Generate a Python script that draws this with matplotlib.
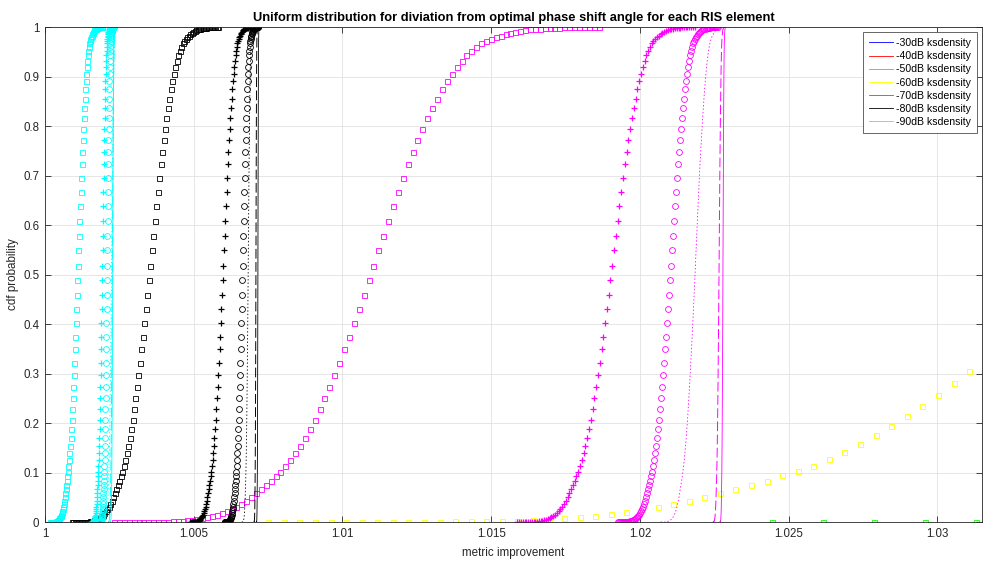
import numpy as np
import matplotlib.pyplot as plt

plt.rcParams["font.family"] = ["Liberation Sans", "DejaVu Sans"]
plt.rcParams["lines.scale_dashes"] = False

# noise levels in the legend and their line colours
levels = ["-30dB", "-40dB", "-50dB", "-60dB", "-70dB", "-80dB", "-90dB"]
level_colors = [(0, 0, 1), (1, 0, 0), (0, 1, 0), (1, 1, 0), (1, 0, 1), (0, 0, 0), (0, 1, 1)]

# ksdensity cdf on its 100 evaluation points (same shape for every curve)
cdf_profile = [
    0, 0, 0, 0, 0, 0, 0, 0, 0,
    0.001, 0.001, 0.001, 0.002, 0.002, 0.003, 0.004, 0.005, 0.006, 0.008, 0.010,
    0.012, 0.015, 0.018, 0.022, 0.026, 0.031, 0.037, 0.043, 0.050, 0.058, 0.067,
    0.075, 0.083, 0.092, 0.102, 0.113, 0.125, 0.139, 0.154, 0.170, 0.188,
    0.207, 0.228, 0.250, 0.273, 0.298, 0.322, 0.349, 0.374, 0.402, 0.430,
    0.458, 0.488, 0.518, 0.549, 0.578, 0.608, 0.638, 0.667, 0.696, 0.723,
    0.747, 0.771, 0.793, 0.816, 0.836, 0.855, 0.874, 0.890, 0.906, 0.919,
    0.931, 0.943, 0.952, 0.960, 0.967, 0.972, 0.976, 0.980, 0.982, 0.985,
    0.987, 0.990, 0.992, 0.993, 0.995, 0.995, 0.997, 0.998, 0.998, 0.999,
    0.999, 1, 1, 1, 1, 1, 1, 1, 1,
]

# one curve per style: squares, plus, circles, dotted, dashed, solid
styles = ["s", "+", "o", ":", "--", "-"]

# first / last evaluation point of each curve
grid_90dB = [(1.000168, 1.001918), (1.001548, 1.002254), (1.001817, 1.002322),
             (1.001985, 1.002456), (1.002120, 1.002389), (1.002187, 1.002355)]
grid_80dB = [(1.000908, 1.005821), (1.004862, 1.006982), (1.006040, 1.007167),
             (1.006615, 1.007019), (1.007019, 1.007153), (1.007103, 1.007204)]
grid_70dB = [(1.002322, 1.018607), (1.015881, 1.021837), (1.019246, 1.022611),
             (1.020693, 1.022880), (1.022443, 1.022847), (1.022682, 1.022884)]

# -60dB and -50dB squares: only the start of these curves falls in range
grid_60dB = (1.007503, 1.059336)
cdf_60dB = [
    0, 0, 0, 0, 0, 0, 0, 0, 0,
    0.001, 0.001, 0.001, 0.002, 0.002, 0.002, 0.003, 0.003, 0.004, 0.006, 0.008,
    0.010, 0.012, 0.017, 0.020, 0.026, 0.031, 0.036, 0.043, 0.050, 0.058,
    0.066, 0.074, 0.083, 0.094, 0.104, 0.114, 0.127, 0.142, 0.158, 0.176,
    0.193, 0.214, 0.234, 0.257, 0.280, 0.305,
]
grid_50dB = (1.024428, 1.194312)
cdf_50dB = [0, 0, 0, 0, 0]

x_ticks = [1, 1.005, 1.01, 1.015, 1.02, 1.025, 1.03]
x_tick_labels = ["1", "1.005", "1.01", "1.015", "1.02", "1.025", "1.03"]
y_ticks = [0, 0.1, 0.2, 0.3, 0.4, 0.5, 0.6, 0.7, 0.8, 0.9, 1]
y_tick_labels = ["0", "0.1", "0.2", "0.3", "0.4", "0.5", "0.6", "0.7", "0.8", "0.9", "1"]


def draw_curve(ax, bounds, values, style, color):
    x = np.linspace(bounds[0], bounds[1], 100)[:len(values)]
    if style == "s":
        ax.plot(x, values, ls="none", marker="s", ms=3.6, mew=0.6, mfc="none", mec=color)
    elif style == "+":
        ax.plot(x, values, ls="none", marker="+", ms=4.6, mew=0.9, color=color)
    elif style == "o":
        ax.plot(x, values, ls="none", marker="o", ms=4.2, mew=0.6, mfc="none", mec=color)
    elif style == ":":
        ax.plot(x, values, ls=(0, (1, 1.5)), lw=0.6, color=color)
    elif style == "--":
        ax.plot(x, values, ls=(0, (7, 2.5)), lw=0.7, color=color)
    else:
        ax.plot(x, values, ls="-", lw=0.6, color=color)


fig = plt.figure(figsize=(9.87, 5.63), dpi=100)
ax = fig.add_axes([0.0456, 0.0728, 0.9494, 0.8792])

# legend entries (the -30dB and -40dB curves lie off to the right)
for lev, col in zip(levels, level_colors):
    ax.plot([], [], color=col, lw=0.6, label=f"{lev} ksdensity")

draw_curve(ax, grid_50dB, cdf_50dB, "s", level_colors[2])
draw_curve(ax, grid_60dB, cdf_60dB, "s", level_colors[3])
for bounds, st in zip(grid_70dB, styles):
    draw_curve(ax, bounds, cdf_profile, st, level_colors[4])
for bounds, st in zip(grid_80dB, styles):
    draw_curve(ax, bounds, cdf_profile, st, level_colors[5])
for bounds, st in zip(grid_90dB, styles):
    draw_curve(ax, bounds, cdf_profile, st, level_colors[6])

ax.set_xlim(1, 1.0315)
ax.set_ylim(0, 1)
ax.set_xticks(x_ticks)
ax.set_xticklabels(x_tick_labels)
ax.set_yticks(y_ticks)
ax.set_yticklabels(y_tick_labels)
ax.tick_params(direction="in", top=True, right=True, length=4, width=0.6,
               labelsize=8.3, colors="#262626", pad=4)
ax.grid(True, color="#e2e2e2", lw=0.6)
ax.set_axisbelow(True)
for sp in ax.spines.values():
    sp.set_color("#262626")
    sp.set_linewidth(0.6)

ax.set_xlabel("metric improvement", fontsize=8.4, color="#262626", labelpad=5.5)
ax.set_ylabel("cdf probability", fontsize=8.4, color="#262626", labelpad=3)
ax.set_title("Uniform distribution for diviation from optimal phase shift angle for each RIS element",
             fontsize=9.3, fontweight="bold", pad=4)

leg = ax.legend(loc="upper right", fontsize=7.6, frameon=True, fancybox=False,
                edgecolor="#4d4d4d", framealpha=1, handlelength=2.3, labelspacing=0.3,
                borderaxespad=0.5, borderpad=0.55, handletextpad=0.3)
leg.get_frame().set_linewidth(0.6)

fig.savefig("out.png", dpi=100)
